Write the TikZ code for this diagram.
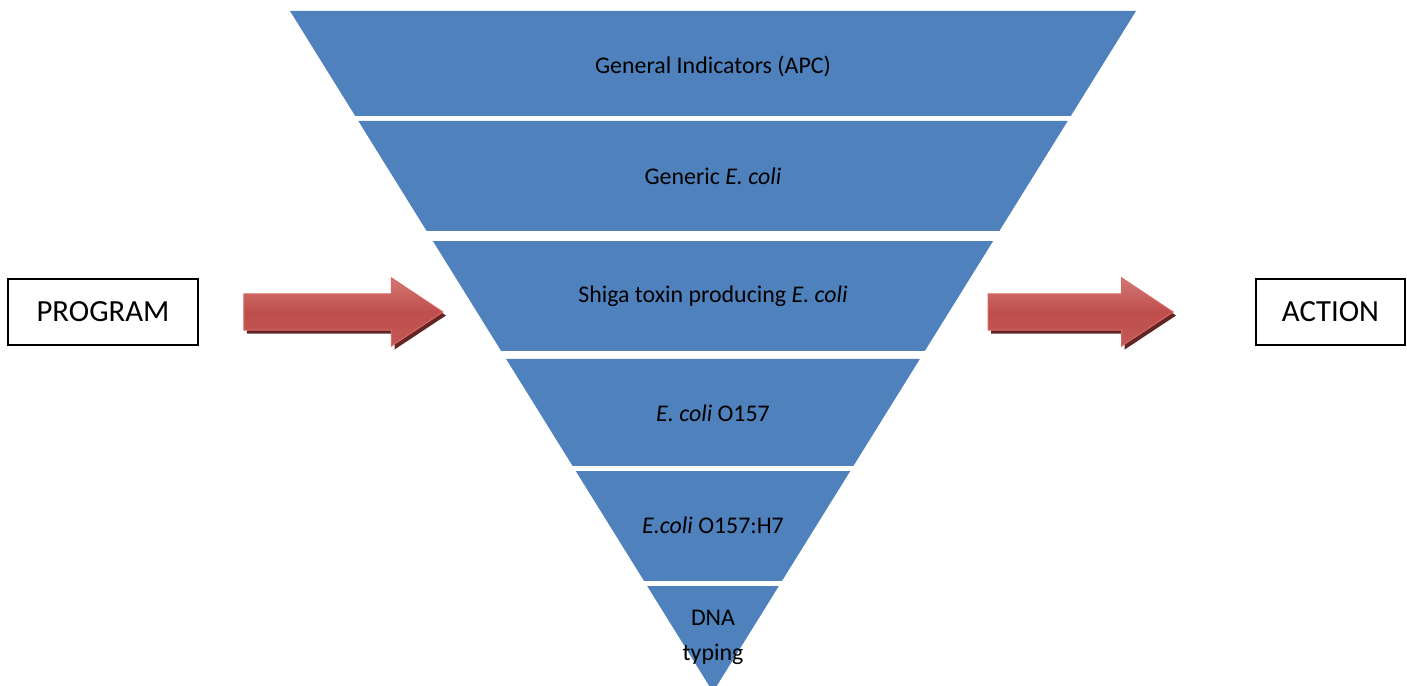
\documentclass[tikz,border=0pt]{standalone}
\usepackage{fontspec}
\setmainfont{Carlito}
\usetikzlibrary{positioning,calc,shapes.arrows,shadows}
\definecolor{funnelblue}{RGB}{79,129,189}
\definecolor{arrowred}{RGB}{190,78,75}
\definecolor{arrowlight}{RGB}{210,120,117}
\definecolor{arrowedge}{RGB}{212,104,101}
\definecolor{arrowshadow}{RGB}{99,37,35}

\begin{document}
\begin{tikzpicture}[x=0.02cm, y=-0.02cm,
band/.style={fill=funnelblue},
txt/.style={font=\fontsize{13.6}{19.9}\selectfont, text=black},
labelbox/.style={draw, line width=1.1pt, minimum height=1.32cm,
  font=\fontsize{17.5}{21}\selectfont},
redarrow/.style={single arrow, draw=arrowedge, line width=0.6pt,
  top color=arrowlight, bottom color=arrowred!94!white, middle color=arrowred,
  single arrow tip angle=67, single arrow head extend=0.32cm,
  inner xsep=0pt, inner ysep=0.35cm, outer sep=0pt,
  drop shadow={shadow xshift=0.06cm, shadow yshift=-0.07cm,
    fill=arrowshadow, opacity=1}}]
\useasboundingbox (0,0) rectangle (1407,686);

% funnel, cut into bands
\coordinate (tl) at (290,11);
\coordinate (tr) at (1136,11);
\coordinate (ap) at (713,692);
\foreach \t/\b in {11/116,121/231,241/351,359/466,471/581,586/692}{
  \pgfmathsetmacro\ft{(\t-11)/681}
  \pgfmathsetmacro\fb{(\b-11)/681}
  \fill[band] ($(tl)!\ft!(ap)$) -- ($(tr)!\ft!(ap)$)
    -- ($(tr)!\fb!(ap)$) -- ($(tl)!\fb!(ap)$) -- cycle;
}

\node[txt] (apc) at (713,66) {General Indicators (APC)};
\node[txt] (generic) at (713,176) {Generic \textit{E. coli}};
\node[txt] (stec) at (713,296) {Shiga toxin producing \textit{E. coli}};
\node[txt] (o157) at (713,413) {\textit{E. coli} O157};
\node[txt] (h7) at (713,525) {\textit{E.coli} O157:H7};
\node[txt, align=center] (dna) at (713,637) {DNA\\typing};

% side boxes and arrows
\node[labelbox, minimum width=3.8cm] (prog) at (103,312) {PROGRAM};
\node[labelbox, minimum width=2.98cm] (act) at (1330.5,312) {ACTION};
\node[redarrow, minimum height=3.98cm, right=0.9cm of prog] (toFunnel) {};
\node[redarrow, minimum height=3.7cm, left=1.64cm of act] (toAction) {};
\end{tikzpicture}
\end{document}
